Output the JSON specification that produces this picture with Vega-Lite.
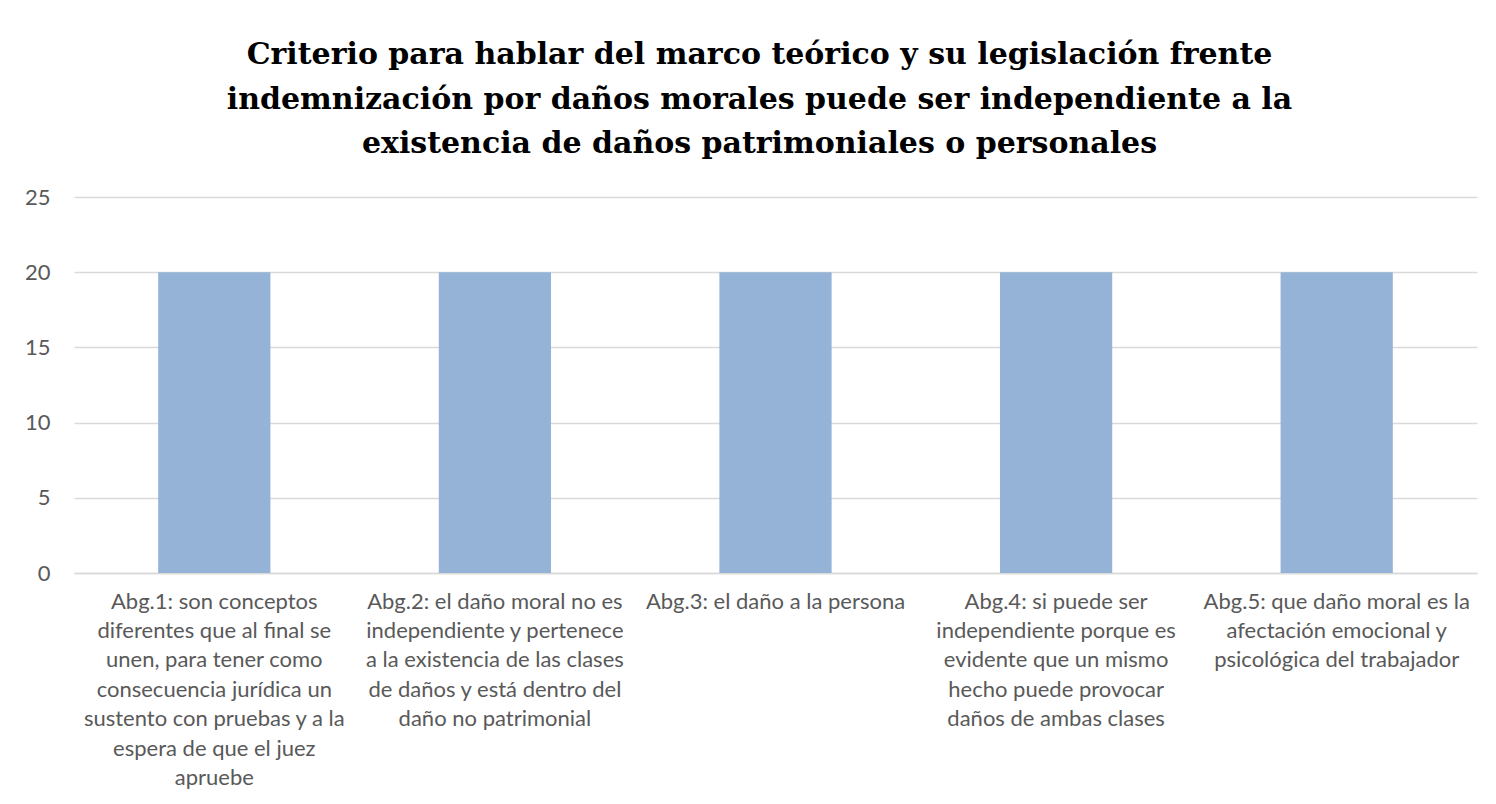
{
  "$schema": "https://vega.github.io/schema/vega-lite/v6.json",
  "width": 1403,
  "height": 376,
  "autosize": {"type": "none"},
  "padding": {"left": 74, "top": 197, "right": 19, "bottom": 231},
  "background": "white",
  "title": {
    "text": ["Criterio para hablar del marco teórico y su legislación frente", "indemnización por daños morales puede ser independiente a la", "existencia de daños patrimoniales o personales"],
    "font": "DejaVu Serif",
    "fontSize": 30,
    "fontWeight": "bold",
    "color": "#000000",
    "lineHeight": 44.5,
    "anchor": "middle",
    "offset": 27,
    "dx": -16
  },
  "data": {
    "values": [
      {"respuesta": "Abg.1: son conceptos|diferentes que al final se|unen, para tener como|consecuencia jurídica un|sustento con pruebas y a la|espera de que el juez|apruebe", "valor": 20},
      {"respuesta": "Abg.2: el daño moral no es|independiente y pertenece|a la existencia de las clases|de daños y está dentro del|daño no patrimonial", "valor": 20},
      {"respuesta": "Abg.3: el daño a la persona", "valor": 20},
      {"respuesta": "Abg.4: si puede ser|independiente porque es|evidente que un mismo|hecho puede provocar|daños de ambas clases", "valor": 20},
      {"respuesta": "Abg.5: que daño moral es la|afectación emocional y|psicológica del trabajador", "valor": 20}
    ]
  },
  "mark": {"type": "bar", "color": "#95B3D7"},
  "encoding": {
    "x": {
      "field": "respuesta",
      "type": "nominal",
      "sort": null,
      "scale": {"paddingInner": 0.6, "paddingOuter": 0.3},
      "axis": {
        "title": null,
        "labelAngle": 0,
        "labelExpr": "split(datum.label, '|')",
        "labelLimit": 0,
        "labelFont": "Lato",
        "labelFontSize": 22,
        "labelLineHeight": 29.4,
        "labelColor": "#595959",
        "labelPadding": 18,
        "labelBaseline": "top",
        "ticks": false,
        "domainColor": "#d9d9d9",
        "domainWidth": 1.5
      }
    },
    "y": {
      "field": "valor",
      "type": "quantitative",
      "scale": {"domain": [0, 25]},
      "axis": {
        "title": null,
        "values": [0, 5, 10, 15, 20, 25],
        "labelFont": "Lato",
        "labelFontSize": 22,
        "labelColor": "#595959",
        "labelPadding": 24,
        "ticks": false,
        "domain": false,
        "gridColor": "#d9d9d9",
        "gridWidth": 1.5
      }
    }
  },
  "config": {"view": {"stroke": null}}
}
